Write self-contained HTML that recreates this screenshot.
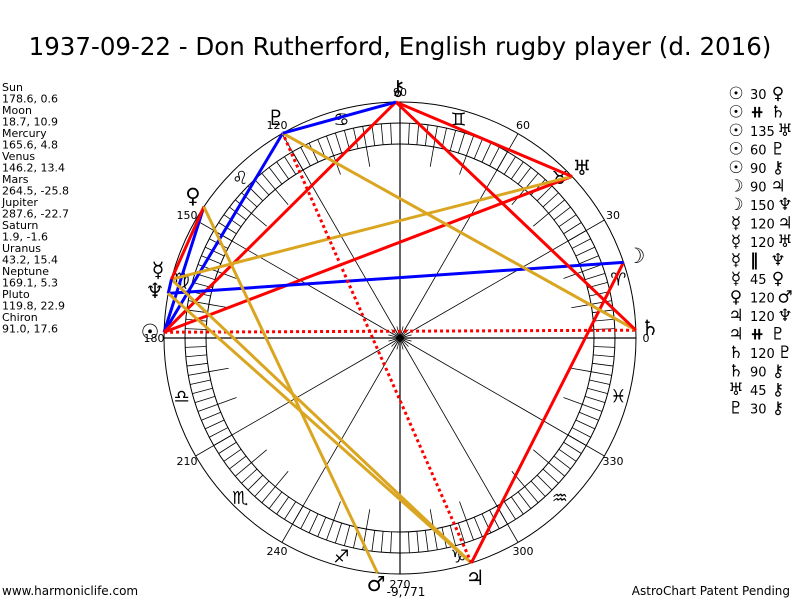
<!DOCTYPE html>
<html><head><meta charset="utf-8"><style>
html,body{margin:0;padding:0;background:#fff;width:800px;height:600px;overflow:hidden}
svg{display:block}
</style></head><body>
<svg id="s" width="800" height="600" viewBox="0 0 800 600" xmlns="http://www.w3.org/2000/svg">
<text x="400" y="55" text-anchor="middle" style="font-family:'DejaVu Sans',sans-serif;font-size:24.5px" fill="#000">1937-09-22 - Don Rutherford, English rugby player (d. 2016)</text>
<g style="font-family:'DejaVu Sans',sans-serif;font-size:11px" fill="#000">
<text x="2" y="91">Sun</text><text x="2" y="102.5">178.6, 0.6</text>
<text x="2" y="114">Moon</text><text x="2" y="125.5">18.7, 10.9</text>
<text x="2" y="137">Mercury</text><text x="2" y="148.5">165.6, 4.8</text>
<text x="2" y="160">Venus</text><text x="2" y="171.5">146.2, 13.4</text>
<text x="2" y="183">Mars</text><text x="2" y="194.5">264.5, -25.8</text>
<text x="2" y="206">Jupiter</text><text x="2" y="217.5">287.6, -22.7</text>
<text x="2" y="229">Saturn</text><text x="2" y="240.5">1.9, -1.6</text>
<text x="2" y="252">Uranus</text><text x="2" y="263.5">43.2, 15.4</text>
<text x="2" y="275">Neptune</text><text x="2" y="286.5">169.1, 5.3</text>
<text x="2" y="298">Pluto</text><text x="2" y="309.5">119.8, 22.9</text>
<text x="2" y="321">Chiron</text><text x="2" y="332.5">91.0, 17.6</text>
<text x="2" y="595" style="font-size:12px">www.harmoniclife.com</text>
<text x="790" y="595" style="font-size:12px" text-anchor="end">AstroChart Patent Pending</text>
</g>
<g id="chart"></g>
<g id="leg" fill="#000"></g>
</svg>
<script>
var NS="http://www.w3.org/2000/svg",C=document.getElementById('chart'),cx=400,cy=338,R=236;
var FF="font-family:'DejaVu Sans',sans-serif;";
function el(t,a,p,txt){var e=document.createElementNS(NS,t);for(var k in a)e.setAttribute(k,a[k]);if(txt!=null)e.textContent=txt;(p||C).appendChild(e);return e;}
function pt(d,r){var a=d*Math.PI/180;return [cx+r*Math.cos(a),cy-r*Math.sin(a)];}
function tx(x,y,s,size,p,extra){return el('text',{x:x,y:y,'text-anchor':'middle',style:FF+'font-size:'+size+'px;'+(extra||'')},p,s);}
el('circle',{cx:cx,cy:cy,r:R,fill:'none',stroke:'#000','stroke-width':1});
el('circle',{cx:cx,cy:cy,r:215,fill:'none',stroke:'#000','stroke-width':1});
el('circle',{cx:cx,cy:cy,r:194,fill:'none',stroke:'#000','stroke-width':1});
for(var d=0;d<360;d+=2.5){var a=pt(d,194),b=pt(d,215);el('line',{x1:a[0],y1:a[1],x2:b[0],y2:b[1],stroke:'#000','stroke-width':0.8});}
for(var d=0;d<360;d+=10){if(d%30==0)continue;var a=pt(d,174),b=pt(d,194);el('line',{x1:a[0],y1:a[1],x2:b[0],y2:b[1],stroke:'#000','stroke-width':0.8});}
for(var d=0;d<360;d+=30){var b=pt(d,R);el('line',{x1:cx,y1:cy,x2:b[0],y2:b[1],stroke:'#000','stroke-width':(d%90==0?1.2:0.8)});
 var l=pt(d,246);tx(l[0],l[1]+4,String(d),11);}
for(var d=0;d<360;d+=15){var b=pt(d,12);el('line',{x1:cx,y1:cy,x2:b[0],y2:b[1],stroke:'#000','stroke-width':0.7});}
el('circle',{cx:cx,cy:cy,r:3,fill:'#000'});
var signs=['♈','♉','♊','♋','♌','♍','♎','♏','♐','♑','♒','♓'];
for(var i=0;i<12;i++){var p=pt(i*30+15,226);tx(p[0],p[1]+6,signs[i]+'\uFE0E',18);}
var P={Su:178.6,Mo:18.7,Me:165.6,Ve:146.2,Ma:264.5,Ju:287.6,Sa:1.9,Ur:43.2,Ne:169.1,Pl:119.8,Ch:91.0};
var G={Su:'☉',Mo:'☽',Me:'☿',Ve:'♀',Ma:'♂',Ju:'♃',Sa:'♄',Ur:'♅',Ne:'♆',Pl:'♇',Ch:'⚷'};
var asp=[['Su','Ve','b'],['Su','Sa','rd'],['Su','Ur','r'],['Su','Pl','b'],['Su','Ch','r'],['Mo','Ju','r'],['Mo','Ne','b'],['Me','Ju','y'],['Me','Ur','y'],['Me','Ne','b'],['Me','Ve','r'],['Ve','Ma','y'],['Ju','Ne','y'],['Ju','Pl','rd'],['Sa','Pl','y'],['Sa','Ch','r'],['Ur','Ch','r'],['Pl','Ch','b']];
var col={b:'#0000ff',r:'#ff0000',rd:'#ff0000',y:'#daa520'};
asp.forEach(function(s){var a=pt(P[s[0]],R),b=pt(P[s[1]],R);var o={x1:a[0],y1:a[1],x2:b[0],y2:b[1],stroke:col[s[2]],'stroke-width':3};if(s[2]=='rd'){o['stroke-dasharray']='3,3';}el('line',o);});
var gp={Su:[150,332],Mo:[636,256],Me:[158,270],Ve:[193,196],Ma:[376,584],Ju:[475,578],Sa:[650,328],Ur:[582,168],Ne:[155,291],Pl:[276,118],Ch:[398,88]};
for(var k in gp){tx(gp[k][0],gp[k][1]+7,G[k]+'\uFE0E',21,null,'font-weight:bold;');}
tx(406,596,'-9,771',12);
var L=[['Su','30','Ve'],['Su','#','Sa'],['Su','135','Ur'],['Su','60','Pl'],['Su','90','Ch'],['Mo','90','Ju'],['Mo','150','Ne'],['Me','120','Ju'],['Me','120','Ur'],['Me','||','Ne'],['Me','45','Ve'],['Ve','120','Ma'],['Ju','120','Ne'],['Ju','#','Pl'],['Sa','120','Pl'],['Sa','90','Ch'],['Ur','45','Ch'],['Pl','30','Ch']];
var LG=document.getElementById('leg');
L.forEach(function(r,i){var y=99+i*18.5;
 tx(736,y,G[r[0]]+'\uFE0E',17,LG,'font-weight:bold;');
 var num=!isNaN(+r[1]);
 var t=r[1]=='#'?'⧺':(r[1]=='||'?'‖':r[1]);
 el('text',{x:750,y:y,style:FF+'font-size:'+(num?13:17)+'px;'+(num?'':'font-weight:bold;')},LG,t);
 tx((r[1].length==3?785:778),y,G[r[2]]+'\uFE0E',17,LG);
});
</script>
</body></html>
